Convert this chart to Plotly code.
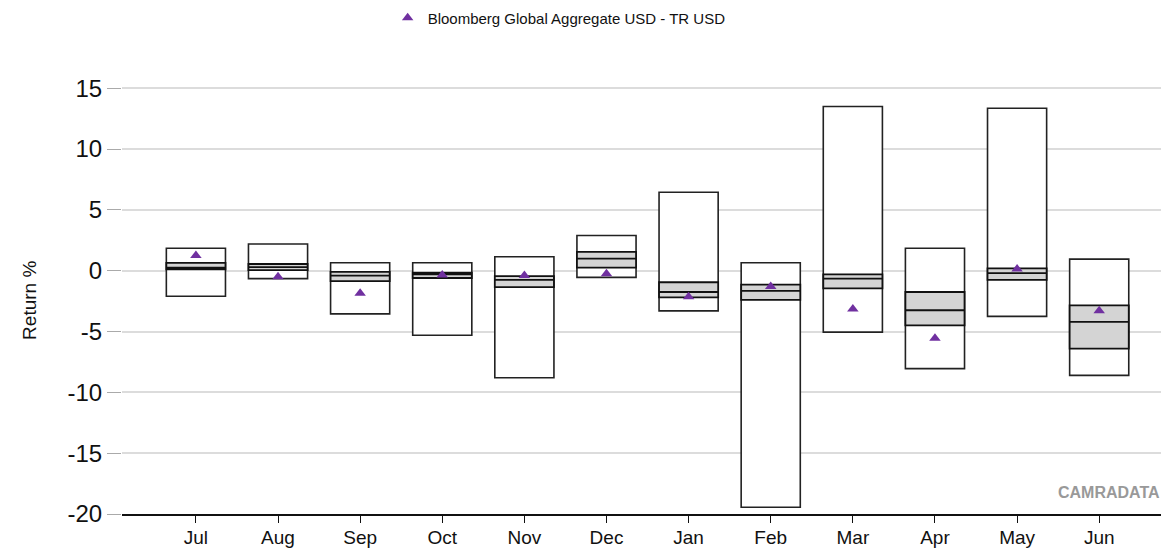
import plotly.graph_objects as go

months = ["Jul", "Aug", "Sep", "Oct", "Nov", "Dec", "Jan", "Feb", "Mar", "Apr", "May", "Jun"]
range_max = [1.85, 2.2, 0.65, 0.65, 1.15, 2.9, 6.45, 0.65, 13.5, 1.85, 13.35, 0.95]
range_min = [-2.1, -0.65, -3.55, -5.3, -8.8, -0.55, -3.3, -19.45, -5.05, -8.05, -3.75, -8.6]
upper_q = [0.65, 0.55, -0.1, -0.15, -0.45, 1.55, -0.95, -1.15, -0.3, -1.75, 0.2, -2.85]
median = [0.25, 0.3, -0.4, -0.3, -0.75, 1.0, -1.75, -1.65, -0.65, -3.25, -0.2, -4.2]
lower_q = [0.12, 0.05, -0.85, -0.6, -1.35, 0.25, -2.2, -2.4, -1.45, -4.5, -0.75, -6.4]
benchmark = [1.25, -0.5, -1.85, -0.35, -0.4, -0.25, -2.15, -1.3, -3.15, -5.55, 0.15, -3.3]
benchmark_name = "Bloomberg Global Aggregate USD - TR USD"

idx = list(range(len(months)))
FONT = "Arial, Liberation Sans, sans-serif"

fig = go.Figure()
fig.add_trace(go.Bar(
    x=idx, y=[a - b for a, b in zip(range_max, range_min)], base=range_min,
    width=0.72, marker=dict(color="white", line=dict(color="#222222", width=1.6)),
    showlegend=False, hoverinfo="skip"))
fig.add_trace(go.Box(
    x=idx, q1=lower_q, median=median, q3=upper_q,
    lowerfence=lower_q, upperfence=upper_q,
    width=0.72, whiskerwidth=0, boxpoints=False,
    fillcolor="#d4d4d4", line=dict(color="#111111", width=1.8),
    showlegend=False, hoverinfo="skip"))
fig.add_trace(go.Scatter(
    x=idx, y=benchmark, mode="markers", name=benchmark_name,
    marker=dict(symbol="triangle-up", size=10, color="#7030A0")))

fig.update_layout(
    width=1161, height=546,
    margin=dict(l=114, r=0, t=62, b=40),
    plot_bgcolor="white", paper_bgcolor="white",
    font=dict(family=FONT, color="#111111"),
    barmode="overlay",
    showlegend=True,
    legend=dict(orientation="h", xref="container", yref="container",
                x=0.327, xanchor="left", y=0.9817, yanchor="middle",
                font=dict(size=15, family=FONT), bgcolor="rgba(0,0,0,0)"),
    xaxis=dict(range=[-0.9, 11.85], tickvals=idx, ticktext=months,
               showgrid=False, zeroline=False,
               showline=True, linecolor="#111111", linewidth=2,
               ticks="outside", ticklen=7, tickcolor="#111111",
               ticklabelstandoff=-2,
               tickfont=dict(size=19, family=FONT)),
    yaxis=dict(range=[-20, 16.5], tickvals=[-20, -15, -10, -5, 0, 5, 10, 15],
               ticktext=["-20", "-15", "-10", "-5", "0", "5", "10", "15"],
               showgrid=True, gridcolor="#dcdcdc", gridwidth=2,
               zeroline=False, showline=False,
               ticks="outside", ticklen=14, tickcolor="#aaaaaa",
               tickfont=dict(size=24, family=FONT)),
)
fig.add_annotation(text="Return %", textangle=-90, xref="paper", yref="paper",
                   x=0, xshift=-92, y=0.48, xanchor="center", yanchor="middle",
                   showarrow=False, font=dict(size=19, family=FONT, color="#111111"))
fig.add_annotation(text="<b>CAMRADATA</b>", xref="paper", yref="paper",
                   x=0.993, y=0.048, xanchor="right", yanchor="middle", showarrow=False,
                   font=dict(size=16, color="#999999", family=FONT))

fig.write_html("out.html")
